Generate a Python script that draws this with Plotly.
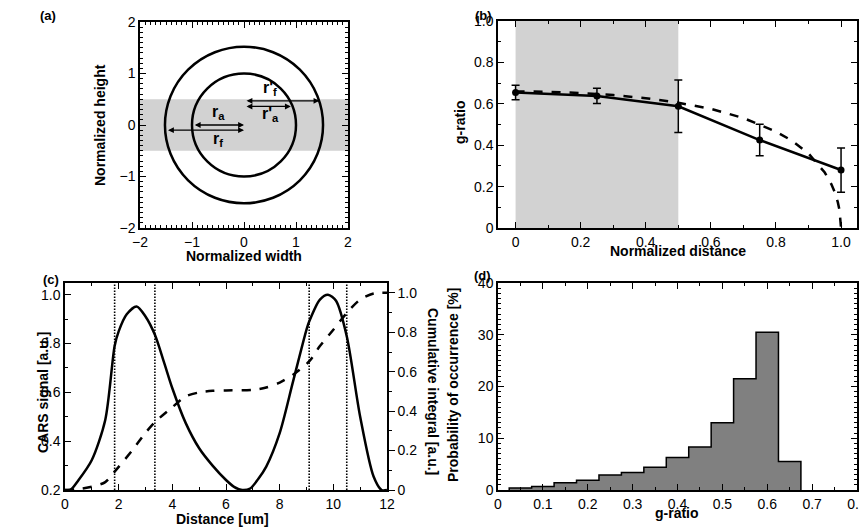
import plotly.graph_objects as go

# ---------------- Panel (a) data ----------------
inner_radius = 1.0
outer_radius = 1.52
band_a = [-0.5, 0.5]
arrow_x0 = [-0.975, -1.49, 0.02, 0.02]
arrow_x1 = [0.0, 0.0, 0.90, 1.45]
arrow_y = [0.0, -0.10, 0.36, 0.47]
arrow_labels = ["r<sub>a</sub>", "r<sub>f</sub>", "r'<sub>a</sub>", "r'<sub>f</sub>"]
label_x = [-0.5, -0.5, 0.5, 0.5]
label_y = [0.25, -0.29, 0.20, 0.70]
ticks_a = [-2, -1, 0, 1, 2]
ticktext_a = ["\u22122", "\u22121", "0", "1", "2"]

# ---------------- Panel (b) data ----------------
dist_pts = [0, 0.25, 0.5, 0.75, 1.0]
g_ratio_pts = [0.655, 0.638, 0.588, 0.425, 0.28]
g_ratio_err = [0.035, 0.037, 0.127, 0.076, 0.107]
model_dist = [0, 0.1, 0.2, 0.3, 0.4, 0.5, 0.6, 0.7, 0.8, 0.85, 0.9, 0.95, 0.97, 0.98, 0.99, 0.995, 1.0]
model_g = [0.660, 0.658, 0.652, 0.642, 0.627, 0.605, 0.576, 0.531, 0.466, 0.421, 0.360, 0.268, 0.212, 0.175, 0.125, 0.089, 0.0]
band_b = [0, 0.5]
ticks_b = [0, 0.2, 0.4, 0.6, 0.8, 1.0]
ticktext_b = ["0", "0.2", "0.4", "0.6", "0.8", "1.0"]

# ---------------- Panel (c) data ----------------
cars_x = [0, 0.2, 0.5, 1.0, 1.5, 1.85, 2.0, 2.3, 2.67, 3.0, 3.35, 3.7, 4.0, 4.5, 5.0, 5.5, 6.0, 6.3, 6.6, 6.9,
          7.2, 7.5, 8.0, 8.5, 9.0, 9.1, 9.5, 9.8, 10.1, 10.5, 11.0, 11.5, 11.8, 12.0]
cars_y = [0.2, 0.2, 0.24, 0.323, 0.487, 0.79, 0.85, 0.92, 0.952, 0.911, 0.836, 0.72, 0.617, 0.474, 0.371, 0.30, 0.241, 0.213, 0.2, 0.206,
          0.245, 0.296, 0.433, 0.645, 0.857, 0.89, 0.98, 1.0, 0.975, 0.83, 0.50, 0.255, 0.2, 0.2]
cum_x = [0, 0.5, 1.0, 1.5, 1.85, 2.5, 3.0, 3.35, 4.0, 4.5, 5.0, 5.5, 6.0, 7.0, 7.5, 8.0, 8.5, 9.1, 9.5, 10.0, 10.5, 11.0, 11.5, 12.0]
cum_y = [0.0, 0.005, 0.017, 0.04, 0.093, 0.20, 0.29, 0.344, 0.42, 0.475, 0.495, 0.503, 0.505, 0.508, 0.52, 0.545, 0.585, 0.652, 0.73, 0.813, 0.898, 0.966, 0.997, 1.0]
dotted_x = [1.85, 3.35, 9.1, 10.5]
ticks_c_x = [0, 2, 4, 6, 8, 10, 12]
ticks_c_left = [0.2, 0.4, 0.6, 0.8, 1.0]
ticktext_c_left = ["0.2", "0.4", "0.6", "0.8", "1.0"]
ticks_c_right = [0, 0.2, 0.4, 0.6, 0.8, 1.0]
ticktext_c_right = ["0", "0.2", "0.4", "0.6", "0.8", "1.0"]

# ---------------- Panel (d) data ----------------
hist_centers = [0.05, 0.10, 0.15, 0.20, 0.25, 0.30, 0.35, 0.40, 0.45, 0.50, 0.55, 0.60, 0.65]
hist_values = [0.4, 0.7, 1.4, 1.9, 2.9, 3.4, 4.4, 6.3, 8.3, 13.0, 21.5, 30.5, 5.5]
bin_width = 0.05
ticks_d_x = [0, 0.1, 0.2, 0.3, 0.4, 0.5, 0.6, 0.7, 0.8]
ticktext_d_x = ["0", "0.1", "0.2", "0.3", "0.4", "0.5", "0.6", "0.7", "0.8"]
ticks_d_y = [0, 10, 20, 30, 40]

FONT = "Liberation Sans, Arial, Helvetica, sans-serif"
LW = 2.5

# page body has an 8px margin: figure is drawn at (8, 8)
OFF = 8
W, H = 867 - OFF, 529 - OFF


def px(x):
    return (x - OFF) / W


def py(y):
    return 1 - (y - OFF) / H


fig = go.Figure()

# (a) invisible trace to activate axes
fig.add_trace(go.Scatter(x=[0], y=[0], mode="markers", marker=dict(opacity=0), xaxis="x", yaxis="y",
                         showlegend=False, hoverinfo="skip"))

# (b)
fig.add_trace(go.Scatter(x=model_dist, y=model_g, mode="lines", line=dict(color="black", width=LW, dash="dash"),
                         xaxis="x2", yaxis="y2", showlegend=False))
fig.add_trace(go.Scatter(x=dist_pts, y=g_ratio_pts, mode="lines+markers",
                         line=dict(color="black", width=LW), marker=dict(color="black", size=7),
                         error_y=dict(type="data", array=g_ratio_err, color="black", thickness=1.5, width=4),
                         xaxis="x2", yaxis="y2", showlegend=False))

# (c)
fig.add_trace(go.Scatter(x=cars_x, y=cars_y, mode="lines", line=dict(color="black", width=LW, shape="spline", smoothing=0.8),
                         xaxis="x3", yaxis="y3", showlegend=False))
fig.add_trace(go.Scatter(x=cum_x, y=cum_y, mode="lines", line=dict(color="black", width=LW, dash="dash", shape="spline", smoothing=0.8),
                         xaxis="x3", yaxis="y5", showlegend=False))

# (d)
fig.add_trace(go.Bar(x=hist_centers, y=hist_values, width=bin_width, marker=dict(color="#808080", line=dict(width=0)),
                     xaxis="x4", yaxis="y4", showlegend=False))
edges = [c - bin_width / 2 for c in hist_centers] + [hist_centers[-1] + bin_width / 2]
step_x = [edges[0]] + edges
step_y = [0] + hist_values + [0]
fig.add_trace(go.Scatter(x=step_x, y=step_y, mode="lines", line=dict(color="black", width=1.5, shape="hv"),
                         xaxis="x4", yaxis="y4", showlegend=False))

tickfont = dict(family=FONT, size=14, color="black")


def ax(domain, rng, tickvals, ticktext, minor_dtick, anchor, mirror="ticks", ticks="inside"):
    return dict(domain=domain, range=rng, tickvals=tickvals, ticktext=ticktext, anchor=anchor,
                showline=True, linecolor="black", linewidth=1.5, mirror=mirror,
                ticks=ticks, ticklen=6, tickwidth=1.2, tickcolor="black",
                minor=dict(ticks=ticks, ticklen=3, tickwidth=1, tickcolor="black", dtick=minor_dtick, showgrid=False),
                showgrid=False, zeroline=False, tickfont=tickfont, automargin=False)


dom_top = [py(228), py(21)]
dom_bot = [py(490), py(283)]
dom_left_a = [px(140), px(348)]
dom_right = [px(498), px(857)]
dom_left_c = [px(65), px(387)]

fig.update_layout(
    width=W, height=H, margin=dict(l=0, r=0, t=0, b=0, pad=0), autosize=False,
    paper_bgcolor="white", plot_bgcolor="white",
    font=dict(family=FONT, color="black"),
    xaxis=ax(dom_left_a, [-2, 2], ticks_a, ticktext_a, 0.1, "y"),
    yaxis=ax([py(228), py(22)], [-2, 2], ticks_a, ticktext_a, 0.1, "x"),
    xaxis2=ax(dom_right, [-0.054, 1.049], ticks_b, ticktext_b, 0.1, "y2"),
    yaxis2=ax(dom_top, [0, 1], ticks_b, ticktext_b, 0.1, "x2"),
    xaxis3=ax(dom_left_c, [0, 12], ticks_c_x, [str(v) for v in ticks_c_x], 1, "y3"),
    yaxis3=ax(dom_bot, [0.2, 1.048], ticks_c_left, ticktext_c_left, 0.1, "x3", mirror=True),
    yaxis5=dict(overlaying="y3", side="right", anchor="x3", range=[0, 1.05], tickvals=ticks_c_right,
                ticktext=ticktext_c_right, showline=True, linecolor="black", linewidth=1.5,
                ticks="outside", ticklen=6, tickwidth=1.2, tickcolor="black",
                minor=dict(ticks="outside", ticklen=3, tickwidth=1, tickcolor="black", dtick=0.1, showgrid=False),
                showgrid=False, zeroline=False, tickfont=tickfont, automargin=False),
    xaxis4=ax(dom_right, [0, 0.8], ticks_d_x, ticktext_d_x, 0.05, "y4"),
    yaxis4=ax(dom_bot, [0, 40], ticks_d_y, [str(v) for v in ticks_d_y], 1, "x4"),
    bargap=0,
)

shapes = []
# (a) band and circles
shapes.append(dict(type="rect", xref="x domain", yref="y", x0=0, x1=1, y0=band_a[0], y1=band_a[1],
                   fillcolor="#d2d2d2", line=dict(width=0), layer="below"))
for r in [inner_radius, outer_radius]:
    shapes.append(dict(type="circle", xref="x", yref="y", x0=-r, x1=r, y0=-r, y1=r,
                       line=dict(color="black", width=LW), layer="above"))
# (b) band
shapes.append(dict(type="rect", xref="x2", yref="y2 domain", x0=band_b[0], x1=band_b[1], y0=0, y1=1,
                   fillcolor="#d2d2d2", line=dict(width=0), layer="below"))
# (c) dotted lines
for xv in dotted_x:
    shapes.append(dict(type="line", xref="x3", yref="y3 domain", x0=xv, x1=xv, y0=0, y1=1,
                       line=dict(color="black", width=1.6, dash="1.5px,1.5px"), layer="above"))
fig.update_layout(shapes=shapes)

annotations = []
# arrows in (a)
for x0, x1, yv in zip(arrow_x0, arrow_x1, arrow_y):
    annotations.append(dict(x=x1, y=yv, ax=x0, ay=yv, xref="x", yref="y", axref="x", ayref="y",
                            text="", showarrow=True, arrowhead=2, arrowside="end+start",
                            arrowsize=0.9, arrowwidth=1.3, arrowcolor="black", standoff=0, startstandoff=0))
for lx, ly, lt in zip(label_x, label_y, arrow_labels):
    annotations.append(dict(x=lx, y=ly, xref="x", yref="y", text="<b>" + lt + "</b>", showarrow=False,
                            font=dict(family=FONT, size=16, color="black")))

tfont = dict(family=FONT, size=14, color="black")
titles = [
    ("Normalized width", 244, 256, 0),
    ("Normalized height", 100, 125, -90),
    ("Normalized distance", 678, 251, 0),
    ("g-ratio", 460, 122, -90),
    ("Distance [um]", 222, 519, 0),
    ("CARS signal [a.u.]", 43, 393, -90),
    ("Cumulative integral [a.u.]", 433, 391, 90),
    ("Probability of occurrence [%]", 453, 385, -90),
    ("g-ratio", 677, 513, 0),
]
for txt, tx, ty, ang in titles:
    annotations.append(dict(x=px(tx), y=py(ty), xref="paper", yref="paper", text="<b>" + txt + "</b>", showarrow=False,
                            textangle=ang, xanchor="center", yanchor="middle", font=tfont))

panel_labels = [("(a)", 48, 16), ("(b)", 484, 16), ("(c)", 51, 279), ("(d)", 483, 275)]
for txt, lx, ly in panel_labels:
    annotations.append(dict(x=px(lx), y=py(ly), xref="paper", yref="paper", text="<b>" + txt + "</b>",
                            showarrow=False, xanchor="center", yanchor="middle",
                            font=dict(family=FONT, size=13, color="black")))
fig.update_layout(annotations=annotations)

fig.write_html("out.html")
